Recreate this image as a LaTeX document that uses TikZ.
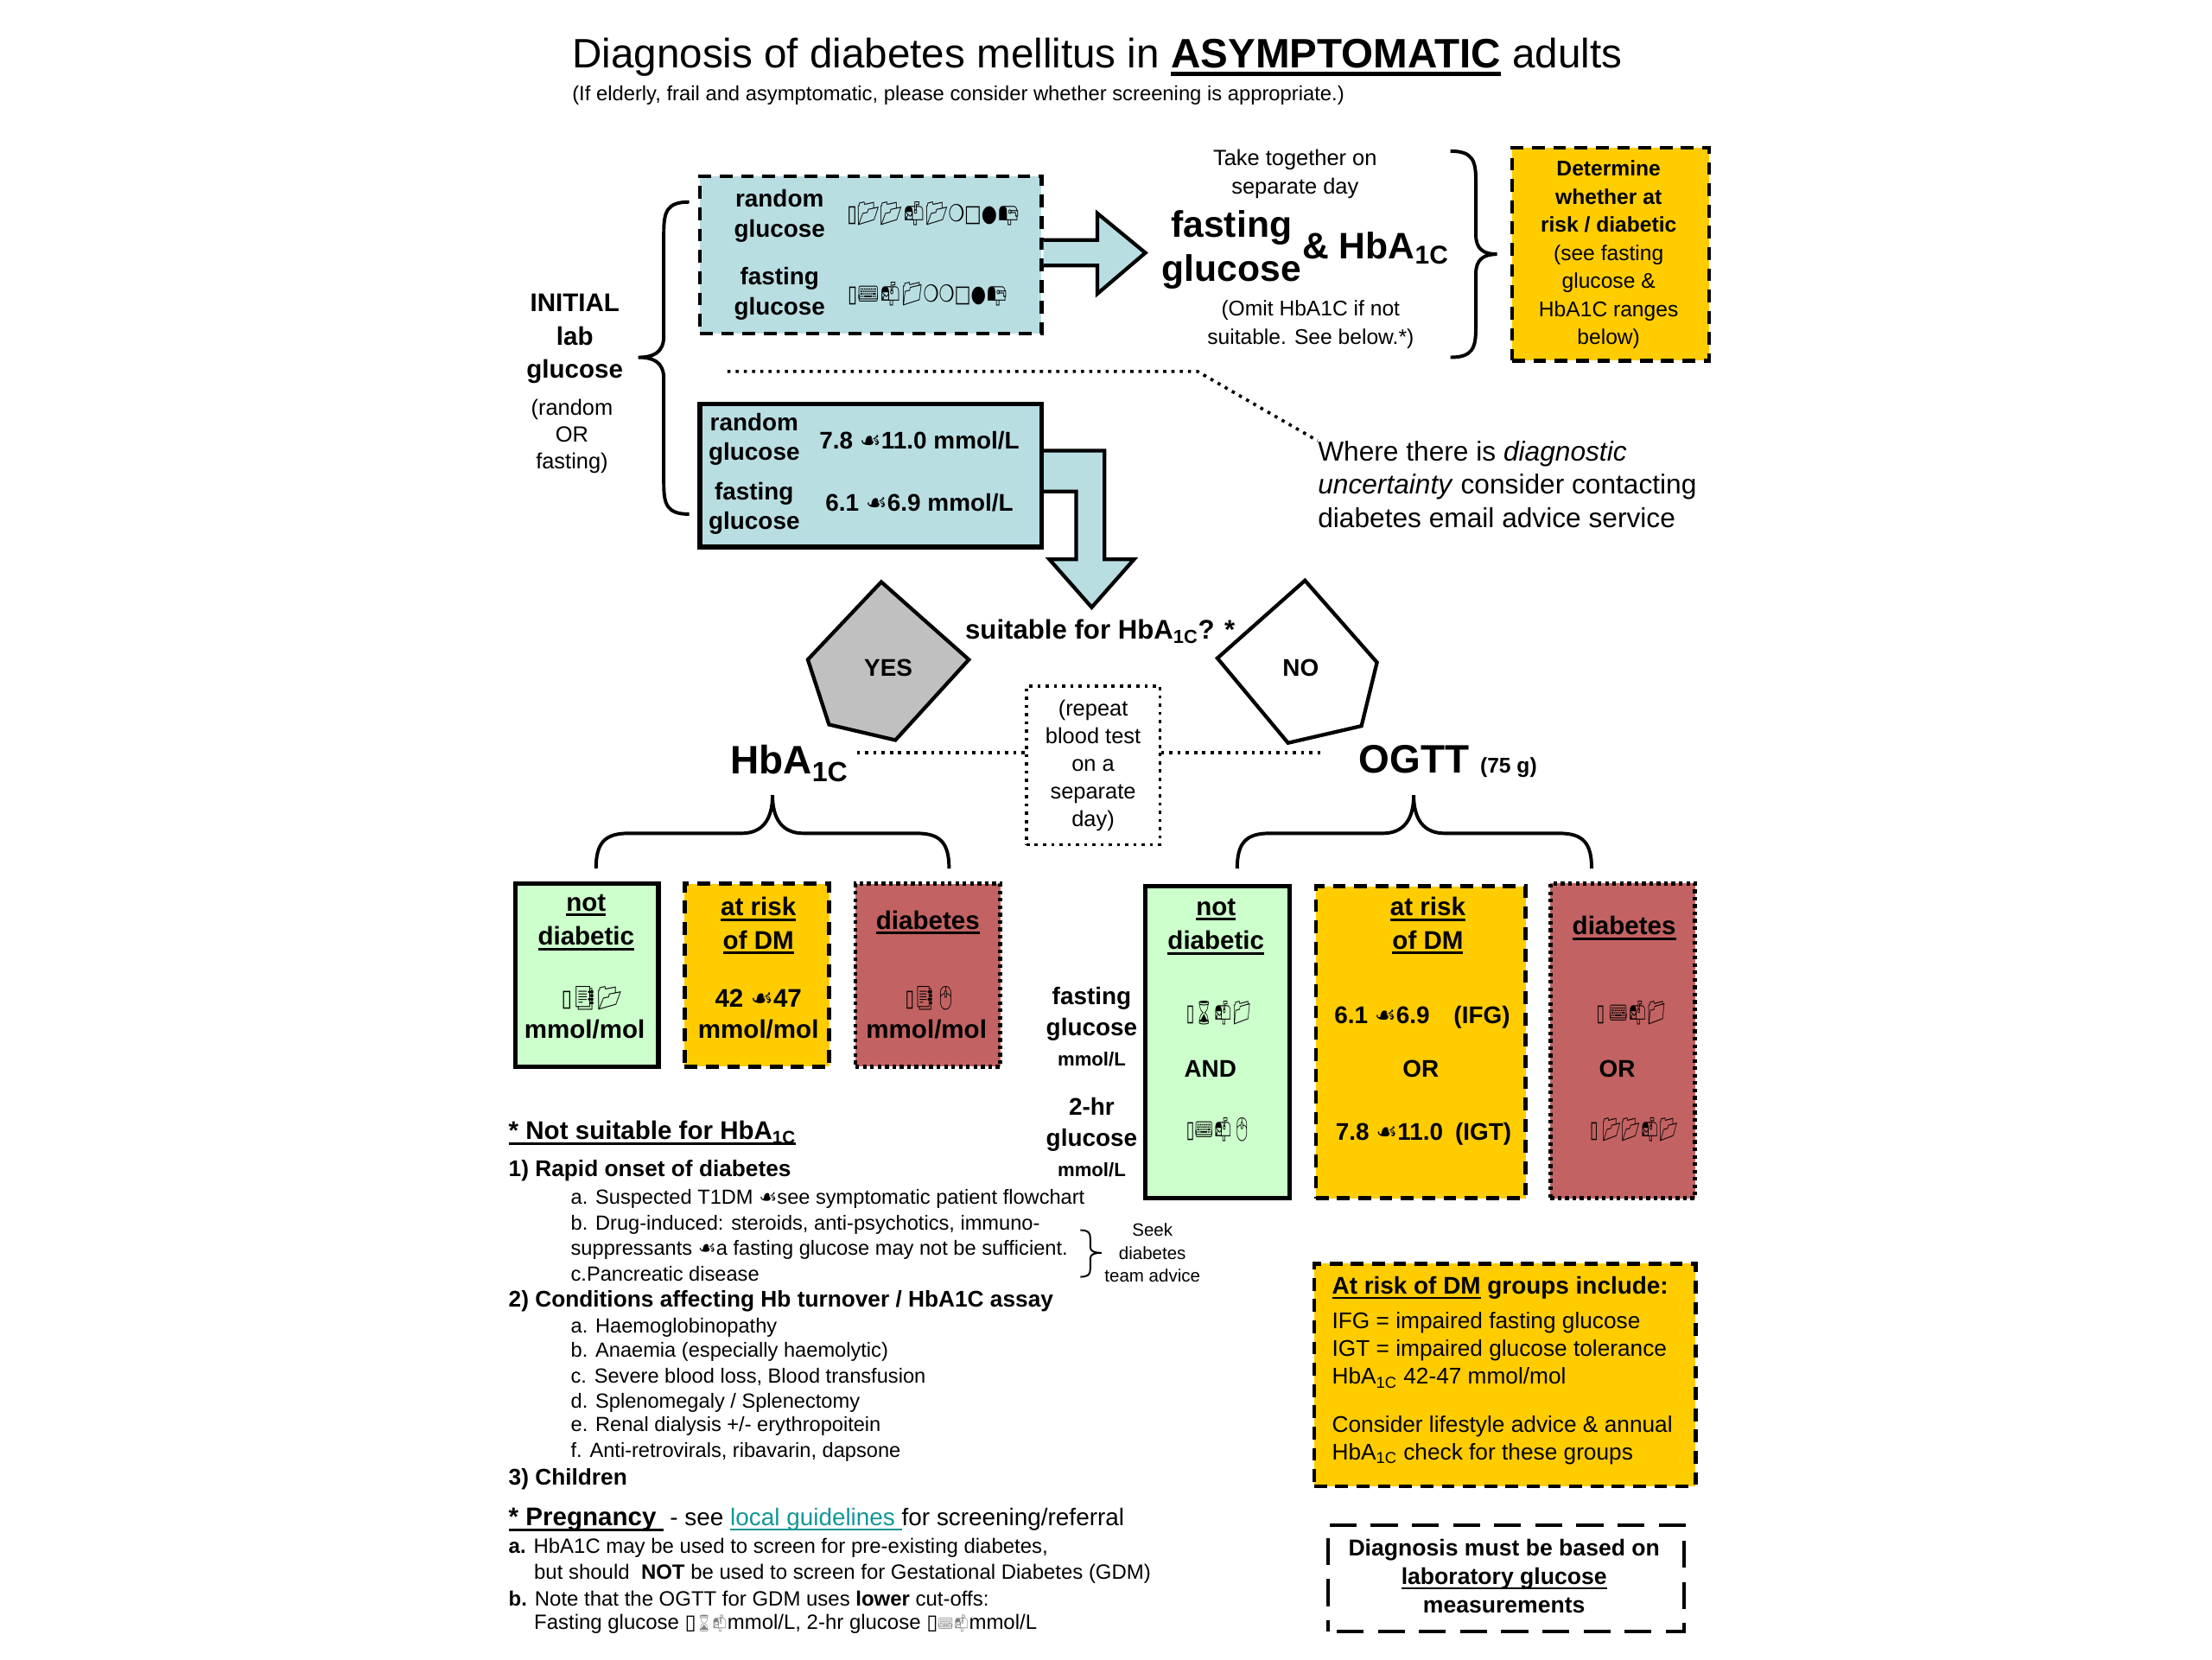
\documentclass[tikz,border=0pt]{standalone}
\usepackage{fontspec}
\usepackage{graphicx}
\setmainfont{Liberation Sans}
\newfontfamily\emo{Noto Emoji}
\newfontfamily\dvs{DejaVu Sans}
\usetikzlibrary{calc}
\definecolor{cblue}{RGB}{185,222,226}
\definecolor{cyel}{RGB}{255,204,0}
\definecolor{cgreen}{RGB}{204,255,204}
\definecolor{cred}{RGB}{195,98,98}
\definecolor{cgray}{RGB}{192,192,192}
\definecolor{cteal}{RGB}{20,150,150}
\newcommand\fs[2]{\fontsize{#1}{#2}\selectfont}
\newcommand\uln[2][0.09em]{\setbox0=\hbox{#2}\leavevmode\rlap{\rule[-0.2em]{\wd0}{#1}}\box0\relax}
\newcommand\dsh{{\dvs ☙}}
\newcommand\gb[3]{\resizebox{#1pt}{#2pt}{#3}}
\newcommand\bx{{\dvs ▯}}
\begin{document}
\begin{tikzpicture}[x=1pt,y=-1pt,
  t/.style={inner sep=0pt, align=center},
  bf/.style={t, font=\bfseries\fs{17}{21}},
  lst/.style={t, anchor=west, font=\fs{14.4}{17}},
  prg/.style={t, anchor=west, font=\fs{14.6}{17}},
  bdr/.style={line width=2.8pt},
  dashb/.style={draw, bdr, dash pattern=on 9pt off 6pt},
  dotb/.style={draw, bdr, dash pattern=on 2.6pt off 2.6pt},
  solb/.style={draw, line width=3.2pt},
  conn/.style={line width=2.2pt, dash pattern=on 2.2pt off 3.6pt},
  brc/.style={line width=2.4pt},
  barrow/.style={line width=2.6pt, fill=cblue, line join=miter},
  pent/.style={line width=2.6pt, line join=miter}
]
\fill[white] (0,0) rectangle (1560,1170);
\useasboundingbox (0,0) rectangle (1560,1170);
\begin{scope}[scale=0.996]
% title
\node[anchor=base west, t] (title) at (405,48) {\fs{29}{34}Diagnosis of diabetes mellitus in \textbf{\uln[0.1em]{ASYMPTOMATIC}} adults};
\node[anchor=base west, t] (subt) at (405,71) {\fs{14.5}{17}(If elderly, frail and asymptomatic, please consider whether screening is appropriate.)};

% initial
\node[t, font=\bfseries\fs{18}{23.5}] (init) at (407,240) {INITIAL\\lab\\glucose};
\node[t, font=\fs{15.5}{19}] (rof) at (405,309) {(random\\OR\\fasting)};
\draw[brc] (488,143) .. controls (472,143) and (470,150) .. (470,165) -- (470,238) .. controls (470,250) and (462,253) .. (452,253) .. controls (462,253) and (470,256) .. (470,268) -- (470,342) .. controls (470,357) and (472,364) .. (488,364);

% top blue box
\node[dashb, fill=cblue, minimum width=241pt, minimum height=111pt] (b1) at (616.5,180.5) {};
\node[bf] (rg1) at (552,153) {random\\glucose};
\node[bf] (fg1) at (552,208) {fasting\\glucose};
\node[t] (g1) at (661,151) {\gb{122}{14}{\bx{\emo 📂📂📬📂}{\dvs ❍□●}{\emo 📭}}};
\node[t] (g2) at (657,208) {\gb{113}{14}{\bx{\emo ⌨📬📁}{\dvs ❍❍□●}{\emo 📭}}};
\draw[barrow] (b1.east |- 0,170) -- (777,170) -- (777,151) -- (811,179) -- (777,208) -- (777,188) -- (b1.east |- 0,188);

\node[t, font=\fs{15.5}{20}] (take) at (917,123) {Take together on\\separate day};
\node[t, font=\bfseries\fs{26}{31}] (fg) at (872,177) {fasting\\glucose};
\node[t, anchor=base west, font=\bfseries\fs{26}{31}] (hbt) at (922,183) {\& HbA\textsubscript{1C}};
\node[t, font=\fs{15}{20}] (omit) at (928,230) {(Omit HbA1C if not\\suitable. See below.*)};
\draw[brc] (1027,107) .. controls (1043,107) and (1045,114) .. (1045,128) -- (1045,166) .. controls (1045,176) and (1050,180) .. (1060,180) .. controls (1050,180) and (1045,184) .. (1045,194) -- (1045,232) .. controls (1045,246) and (1043,253) .. (1027,253);
\node[dashb, fill=cyel, minimum width=139pt, minimum height=150pt] (det) at (1140.5,180) {};
\node[t, font=\fs{15}{19.8}] (dett) at (1139,180.5) {\textbf{Determine}\\\textbf{whether at}\\\textbf{risk / diabetic}\\(see fasting\\glucose \&\\HbA1C ranges\\below)};

% where
\node[anchor=west, t, align=left, font=\fs{19.3}{23.5}] (where) at (933,343) {Where there is \textit{diagnostic}\\\textit{uncertainty} consider contacting\\diabetes email advice service};
\draw[conn] (515,263) -- (848,263) -- (where.north west);

% bottom blue box
\node[solb, fill=cblue, minimum width=241pt, minimum height=101pt] (b2) at (616.5,336.5) {};
\node[bf] (rg2) at (534,311) {random\\glucose};
\node[bf] (fg2) at (534,360) {fasting\\glucose};
\node[bf] (v1) at (651,312) {7.8 \dsh11.0 mmol/L};
\node[bf] (v2) at (651,356) {6.1 \dsh6.9 mmol/L};
\draw[barrow] (b2.east |- 0,319) -- (782,319) -- (782,396) -- (803,396) -- (773,430) -- (743,396) -- (762,396) -- (762,348) -- (b2.east |- 0,348);

% suitable
\node[t, font=\bfseries\fs{19}{22}] (suit) at (779,447) {suitable for HbA\textsubscript{1C}? *};
\draw[pent, fill=cgray] (624,412) -- (686,467) -- (634,524) -- (587,513) -- (572,467) -- cycle;
\node[t, font=\bfseries\fs{17}{20}] (yes) at (629,473) {YES};
\draw[pent, fill=white] (924,411) -- (975,469) -- (964,514) -- (912,526) -- (862,466) -- cycle;
\node[t, font=\bfseries\fs{17}{20}] (no) at (921,473) {NO};

\node[anchor=base west, t, font=\bfseries\fs{28}{32}] (hba) at (517,548) {HbA\textsubscript{1C}};
\node[anchor=base west, t, font=\bfseries\fs{28}{32}] (ogtt) at (962,547) {OGTT {\fs{15}{18}(75 g)}};
\node[t, draw, line width=2pt, dash pattern=on 2.2pt off 3.6pt, minimum width=94pt, minimum height=112pt, font=\fs{15.5}{19.5}] (rep) at (774,542) {(repeat\\blood test\\on a\\separate\\day)};
\draw[conn] ($(hba.east |- 0,533)+(6,0)$) -- (rep.west |- 0,533);
\draw[conn] (rep.east |- 0,533) -- ($(ogtt.west |- 0,533)+(-24,0)$);

% horizontal braces
\draw[brc] (422,615) .. controls (422,597) and (428,590) .. (445,590) -- (525,590) .. controls (540,590) and (547,580) .. (547,563) .. controls (547,580) and (554,590) .. (569,590) -- (649,590) .. controls (666,590) and (672,597) .. (672,615);
\draw[brc] (876,615) .. controls (876,597) and (882,590) .. (899,590) -- (979,590) .. controls (994,590) and (1001,580) .. (1001,563) .. controls (1001,580) and (1008,590) .. (1023,590) -- (1104,590) .. controls (1121,590) and (1127,597) .. (1127,615);

% HbA1c boxes
\node[solb, fill=cgreen, minimum width=101pt, minimum height=129pt] (nd1) at (415.5,690.5) {};
\node[t, font=\bfseries\fs{18}{24}] (nd1h) at (415,653) {\uln[0.1em]{not}\\\uln[0.1em]{diabetic}};
\node[t] (nd1g) at (419,707) {\gb{43}{14}{\bx{\emo 📑📂}}};
\node[t, font=\bfseries\fs{18}{22}] (nd1u) at (414,729) {mmol/mol};

\node[dashb, fill=cyel, minimum width=102pt, minimum height=129pt] (ar1) at (536,690.5) {};
\node[t, font=\bfseries\fs{18}{23.5}] (ar1h) at (537,655.5) {\uln[0.1em]{at risk}\\\uln[0.1em]{of DM}};
\node[t, font=\bfseries\fs{18}{22}] (ar1v) at (537,707) {42 \dsh47};
\node[t, font=\bfseries\fs{18}{22}] (ar1u) at (537,729) {mmol/mol};

\node[dotb, fill=cred, minimum width=102pt, minimum height=129pt] (db1) at (657,690.5) {};
\node[t, font=\bfseries\fs{18}{22}] (db1h) at (657,653) {\uln[0.1em]{diabetes}};
\node[t] (db1g) at (659,707) {\gb{36}{14}{\bx{\emo 📑🖱}}};
\node[t, font=\bfseries\fs{18}{22}] (db1u) at (656,729) {mmol/mol};

% OGTT labels
\node[t, font=\bfseries\fs{17}{22}] (fgl) at (773,718) {fasting\\glucose};
\node[t, font=\bfseries\fs{13.5}{16}] (fgu) at (773,750) {mmol/L};
\node[t, font=\bfseries\fs{17}{22}] (hgl) at (773,796) {2-hr\\glucose};
\node[t, font=\bfseries\fs{13.5}{16}] (hgu) at (773,828) {mmol/L};

% OGTT boxes
\node[solb, fill=cgreen, minimum width=102pt, minimum height=220pt] (nd2) at (862,738) {};
\node[t, font=\bfseries\fs{18}{24}] (nd2h) at (861,656) {\uln[0.1em]{not}\\\uln[0.1em]{diabetic}};
\node[t] (nd2g1) at (863,717) {\gb{46}{14}{\bx{\emo ⌛📬📁}}};
\node[t, font=\bfseries\fs{17}{20}] (and) at (857,757) {AND};
\node[t] (nd2g2) at (863,800) {\gb{46}{14}{\bx{\emo ⌨📬🖱}}};

\node[dashb, fill=cyel, minimum width=148pt, minimum height=220pt] (ar2) at (1006,738) {};
\node[t, font=\bfseries\fs{18}{23.5}] (ar2h) at (1011,655.5) {\uln[0.1em]{at risk}\\\uln[0.1em]{of DM}};
\node[t, font=\bfseries\fs{17}{20}] (ar2a) at (1007,720) {6.1 \dsh6.9\quad(IFG)};
\node[t, font=\bfseries\fs{17}{20}] (or1) at (1006,757) {OR};
\node[t, font=\bfseries\fs{17}{20}] (ar2b) at (1008,803) {7.8 \dsh11.0\enspace(IGT)};

\node[dotb, fill=cred, minimum width=102pt, minimum height=222pt] (db2) at (1149,737) {};
\node[t, font=\bfseries\fs{18}{22}] (db2h) at (1150,657) {\uln[0.1em]{diabetes}};
\node[t] (db2g1) at (1155,717) {\gb{49}{14}{\bx\ {\emo ⌨📬📁}}};
\node[t, font=\bfseries\fs{17}{20}] (or2) at (1145,757) {OR};
\node[t] (db2g2) at (1157,800) {\gb{62}{14}{\bx\ {\emo 📂📂📬📂}}};

% not suitable list
\node[t, anchor=west, font=\bfseries\fs{18}{22}] (ns) at (360,802) {\uln[0.09em]{* Not suitable for HbA\textsubscript{1C}}};
\node[t, anchor=west, font=\bfseries\fs{16}{19}] (l1) at (360,829) {1) Rapid onset of diabetes};
\node[lst] (l1a) at (404,849) {a. Suspected T1DM \dsh see symptomatic patient flowchart};
\node[lst] (l1b) at (404,867) {b. Drug-induced: steroids, anti-psychotics, immuno-};
\node[lst] (l1b2) at (404,885) {suppressants \dsh a fasting glucose may not be sufficient.};
\node[lst] (l1c) at (404,902) {c.Pancreatic disease};
\draw[line width=1.2pt] (765,871) .. controls (771,871) and (772,873) .. (772,877) -- (772,883) .. controls (772,886) and (775,887) .. (780,887) .. controls (775,887) and (772,888) .. (772,891) -- (772,898) .. controls (772,902) and (771,904) .. (765,904);
\node[t, font=\fs{12.5}{16}] (seek) at (816,887) {Seek\\diabetes\\team advice};
\node[t, anchor=west, font=\bfseries\fs{16}{19}] (l2) at (360,921) {2) Conditions affecting Hb turnover / HbA1C assay};
\node[lst] (l2a) at (404,940) {a. Haemoglobinopathy};
\node[lst] (l2b) at (404,957) {b. Anaemia (especially haemolytic)};
\node[lst] (l2c) at (404,975) {c. Severe blood loss, Blood transfusion};
\node[lst] (l2d) at (404,993) {d. Splenomegaly / Splenectomy};
\node[lst] (l2e) at (404,1010) {e. Renal dialysis +/- erythropoitein};
\node[lst] (l2f) at (404,1028) {f. Anti-retrovirals, ribavarin, dapsone};
\node[t, anchor=west, font=\bfseries\fs{16}{19}] (l3) at (360,1047) {3) Children};

% pregnancy
\node[t, anchor=west] (preg) at (360,1076) {\fs{18}{20}\textbf{\uln[0.09em]{* Pregnancy\ }}\fs{17}{19} - see \textcolor{cteal}{\uln{local guidelines }}for screening/referral};
\node[prg] (pa) at (360,1096) {\textbf{a.} HbA1C may be used to screen for pre-existing diabetes,};
\node[prg] (pa2) at (378,1114) {but should \ \textbf{NOT} be used to screen for Gestational Diabetes (GDM)};
\node[prg] (pb) at (360,1132) {\textbf{b.} Note that the OGTT for GDM uses \textbf{lower} cut-offs:};
\node[prg] (pb2) at (378,1150) {Fasting glucose \bx\gb{22}{10}{\color{gray}\emo ⌛📬}mmol/L, 2-hr glucose \bx\gb{22}{10}{\color{gray}\emo ⌨📬}mmol/L};

% at risk groups box
\node[dashb, fill=cyel, minimum width=269pt, minimum height=157pt] (grp) at (1065.5,973.5) {};
\node[t, anchor=west, font=\bfseries\fs{17}{20}] (grph) at (943,912) {\uln[0.09em]{At risk of DM} groups include:};
\node[t, anchor=north west, align=left, font=\fs{16}{19.5}] (grpt) at (943,929) {IFG = impaired fasting glucose\\IGT = impaired glucose tolerance\\HbA\textsubscript{1C} 42-47 mmol/mol\\[14.5pt]Consider lifestyle advice \& annual\\HbA\textsubscript{1C} check for these groups};

% diagnosis box
\node[draw, line width=2.6pt, dash pattern=on 19pt off 10pt, dash phase=-6pt, fill=white, minimum width=251pt, minimum height=75pt] (diag) at (1066.5,1117.5) {};
\node[t, font=\bfseries\fs{16.2}{20}] (diagt) at (1065,1116) {Diagnosis must be based on\\\uln{laboratory glucose}\\measurements};
\end{scope}
\end{tikzpicture}
\end{document}
